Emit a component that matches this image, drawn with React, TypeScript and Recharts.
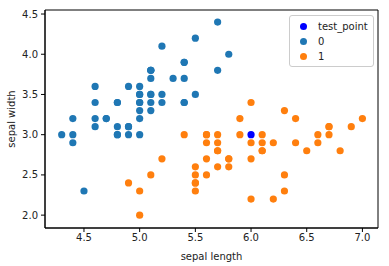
import { ScatterChart, Scatter, XAxis, YAxis, ReferenceArea } from "recharts";

// iris: first 100 rows, sepal length / sepal width
const setosaLength = [
  5.1, 4.9, 4.7, 4.6, 5.0, 5.4, 4.6, 5.0, 4.4, 4.9, 5.4, 4.8, 4.8, 4.3, 5.8, 5.7, 5.4, 5.1, 5.7, 5.1,
  5.4, 5.1, 4.6, 5.1, 4.8, 5.0, 5.0, 5.2, 5.2, 4.7, 4.8, 5.4, 5.2, 5.5, 4.9, 5.0, 5.5, 4.9, 4.4, 5.1,
  5.0, 4.5, 4.4, 5.0, 5.1, 4.8, 5.1, 4.6, 5.3, 5.0,
];
const setosaWidth = [
  3.5, 3.0, 3.2, 3.1, 3.6, 3.9, 3.4, 3.4, 2.9, 3.1, 3.7, 3.4, 3.0, 3.0, 4.0, 4.4, 3.9, 3.5, 3.8, 3.8,
  3.4, 3.7, 3.6, 3.3, 3.4, 3.0, 3.4, 3.5, 3.4, 3.2, 3.1, 3.4, 4.1, 4.2, 3.1, 3.2, 3.5, 3.6, 3.0, 3.4,
  3.5, 2.3, 3.2, 3.5, 3.8, 3.0, 3.8, 3.2, 3.7, 3.3,
];
const versicolorLength = [
  7.0, 6.4, 6.9, 5.5, 6.5, 5.7, 6.3, 4.9, 6.6, 5.2, 5.0, 5.9, 6.0, 6.1, 5.6, 6.7, 5.6, 5.8, 6.2, 5.6,
  5.9, 6.1, 6.3, 6.1, 6.4, 6.6, 6.8, 6.7, 6.0, 5.7, 5.5, 5.5, 5.8, 6.0, 5.4, 6.0, 6.7, 6.3, 5.6, 5.5,
  5.5, 6.1, 5.8, 5.0, 5.6, 5.7, 5.7, 6.2, 5.1, 5.7,
];
const versicolorWidth = [
  3.2, 3.2, 3.1, 2.3, 2.8, 2.8, 3.3, 2.4, 2.9, 2.7, 2.0, 3.0, 2.2, 2.9, 2.9, 3.1, 3.0, 2.7, 2.2, 2.5,
  3.2, 2.8, 2.5, 2.8, 2.9, 3.0, 2.8, 3.0, 2.9, 2.6, 2.4, 2.4, 2.7, 2.7, 3.0, 3.4, 3.1, 2.3, 3.0, 2.5,
  2.6, 3.0, 2.6, 2.3, 2.7, 3.0, 2.9, 2.9, 2.5, 2.8,
];
const testPoint = [{ x: 6.0, y: 3.0 }];

const xTicks = [4.5, 5.0, 5.5, 6.0, 6.5, 7.0];
const yTicks = [2.0, 2.5, 3.0, 3.5, 4.0, 4.5];
const xDomain = [4.15, 7.14];
const yDomain = [1.84, 4.55];

const legendItems = [
  { name: "test_point", color: "#0000ff" },
  { name: "0", color: "#1f77b4" },
  { name: "1", color: "#ff7f0e" },
];

const toPoints = (xs: number[], ys: number[]) => xs.map((x, i) => ({ x, y: ys[i] }));
const setosa = toPoints(setosaLength, setosaWidth);
const versicolor = toPoints(versicolorLength, versicolorWidth);

const FONT = "'DejaVu Sans', sans-serif";

const dot = (color: string) => (props: any) =>
  <circle cx={props.cx} cy={props.cy} r={3.6} fill={color} />;

function LegendBox() {
  return (
    <div
      style={{
        position: "absolute",
        left: 289,
        top: 15,
        width: 85,
        boxSizing: "border-box",
        border: "1px solid #cccccc",
        borderRadius: 3,
        background: "rgba(255,255,255,0.8)",
        padding: "3px 0 2px 10px",
        fontFamily: FONT,
        fontSize: 10,
        color: "#222",
      }}
    >
      {legendItems.map((it) => (
        <div key={it.name} style={{ display: "flex", alignItems: "center", height: 15 }}>
          <span
            style={{
              display: "inline-block",
              width: 7,
              height: 7,
              borderRadius: "50%",
              background: it.color,
              marginRight: 11,
            }}
          />
          <span>{it.name}</span>
        </div>
      ))}
    </div>
  );
}

export default function App() {
  return (
    <div style={{ position: "absolute", left: 0, top: 0, width: 389, height: 266, background: "#fff" }}>
      <ScatterChart width={389} height={266} margin={{ top: 10, right: 11, bottom: 0, left: 0 }}>
        <XAxis
          type="number"
          dataKey="x"
          domain={xDomain}
          ticks={xTicks}
          tickFormatter={(v: number) => v.toFixed(1)}
          allowDataOverflow
          height={38}
          stroke="#000"
          tickSize={4}
          tickMargin={2}
          tick={{ fontSize: 10, fill: "#222", fontFamily: FONT }}
          label={{ value: "sepal length", position: "insideBottom", offset: 6, fontSize: 10, fill: "#222", fontFamily: FONT }}
        />
        <YAxis
          type="number"
          dataKey="y"
          domain={yDomain}
          ticks={yTicks}
          tickFormatter={(v: number) => v.toFixed(1)}
          allowDataOverflow
          width={45}
          stroke="#000"
          tickSize={4}
          tickMargin={3}
          tick={{ fontSize: 10, fill: "#222", fontFamily: FONT }}
          label={{ value: "sepal width", angle: -90, position: "insideLeft", offset: 11, fontSize: 10, fill: "#222", fontFamily: FONT, style: { textAnchor: "middle" } }}
        />
        <ReferenceArea
          x1={xDomain[0]}
          x2={xDomain[1]}
          y1={yDomain[0]}
          y2={yDomain[1]}
          fill="none"
          stroke="#000"
          strokeWidth={1}
        />
        <Scatter name="test_point" data={testPoint} shape={dot("#0000ff")} isAnimationActive={false} />
        <Scatter name="0" data={setosa} shape={dot("#1f77b4")} isAnimationActive={false} />
        <Scatter name="1" data={versicolor} shape={dot("#ff7f0e")} isAnimationActive={false} />
      </ScatterChart>
      <LegendBox />
    </div>
  );
}
